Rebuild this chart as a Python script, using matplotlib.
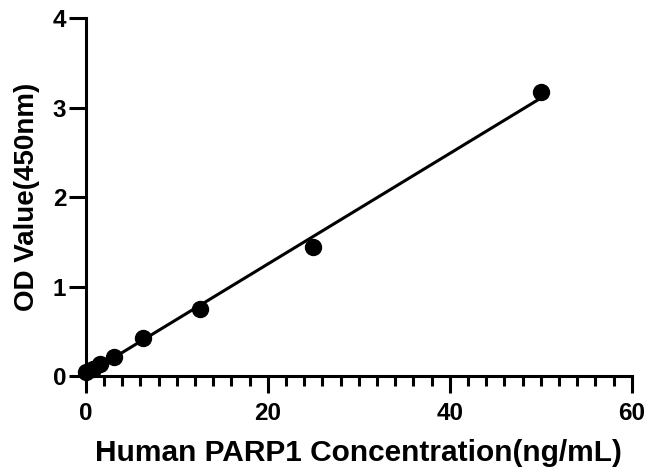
import numpy as np
import matplotlib
matplotlib.use('Agg')
import matplotlib.pyplot as plt
from matplotlib.ticker import MultipleLocator

# Standard curve data
conc = [0, 0.78, 1.56, 3.125, 6.25, 12.5, 25, 50]
od = [0.04, 0.08, 0.13, 0.21, 0.43, 0.75, 1.44, 3.17]

plt.rcParams['font.family'] = ['Liberation Sans', 'DejaVu Sans']
plt.rcParams['font.weight'] = 'bold'

fig = plt.figure(figsize=(6.5, 4.71), dpi=100)
ax = fig.add_axes([0.132, 0.2017, 0.840, 0.760])

# linear fit
slope, intercept = np.polyfit(conc, od, 1)
xs = np.array([min(conc), max(conc)])
ax.plot(xs, slope * xs + intercept, color='black', lw=2.2, zorder=2)
ax.plot(conc, od, 'o', color='black', ms=11.5, zorder=3, clip_on=False)

ax.set_xlim(0, 60)
ax.set_ylim(0, 4)
ax.xaxis.set_major_locator(MultipleLocator(20))
ax.xaxis.set_minor_locator(MultipleLocator(2))
ax.yaxis.set_major_locator(MultipleLocator(1))

for s in ['top', 'right']:
    ax.spines[s].set_visible(False)
for s in ['left', 'bottom']:
    ax.spines[s].set_linewidth(2.2)

ax.tick_params(which='major', length=12, width=2.2, labelsize=17.5)
ax.tick_params(which='minor', length=7, width=2.2)
ax.tick_params(axis='x', which='major', pad=7)
ax.tick_params(axis='y', which='major', pad=2)

ax.set_xlabel('Human PARP1 Concentration(ng/mL)', fontsize=21.5, fontweight='bold', labelpad=10)
ax.set_ylabel('OD Value(450nm)', fontsize=20, fontweight='bold', labelpad=9)

fig.savefig('out.png', dpi=100)
